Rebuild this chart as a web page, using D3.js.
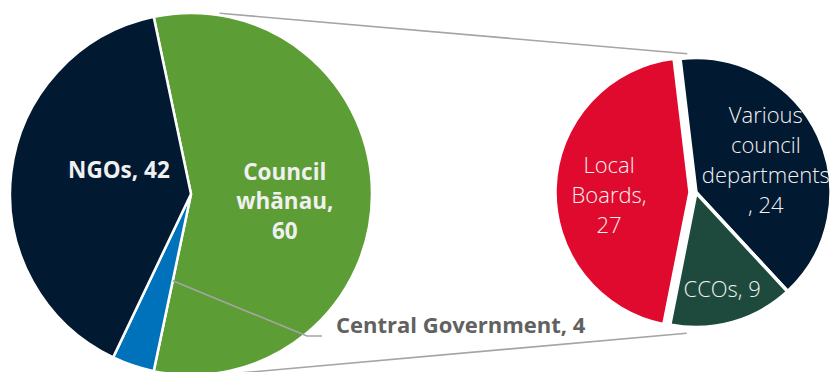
<!DOCTYPE html>
<html>
<head>
<meta charset="utf-8">
<script src="https://cdn.jsdelivr.net/npm/d3@7"></script>
<style>
  html, body { margin: 0; padding: 0; background: #ffffff; }
  svg { display: block; }
  text { font-family: "Open Sans", Roboto, "Noto Sans", sans-serif; }
</style>
</head>
<body>
<svg id="chart" width="833" height="372"></svg>
<script>
// Main pie: where the work came from
const mainCategories = ["Council whānau", "Central Government", "NGOs"];
const mainValues = [60, 4, 42];
const mainColors = ["#5c9e35", "#0072bc", "#011931"];

// Breakdown of the "Council whānau" slice
const subCategories = ["Various council departments", "CCOs", "Local Boards"];
const subValues = [24, 9, 27];
const subColors = ["#011931", "#1d4a3c", "#e00a2e"];

const W = 833, H = 372;
const svg = d3.select("#chart");
const deg = Math.PI / 180;

// geometry
const main = { cx: 191, cy: 194, r: 181, stroke: 2.5 };
const sub = { cx: 696, cy: 192.5, r: 135, stroke: 3.5 };

const polar = (c, a, rad) => [c.cx + rad * Math.sin(a), c.cy - rad * Math.cos(a)];

// main pie: the slice that is broken out faces the second pie
const mainShare = mainValues[0] / d3.sum(mainValues);
const mainPie = d3.pie().sort(null).value(d => d)
  .startAngle(Math.PI / 2 - mainShare * Math.PI)
  .endAngle(Math.PI / 2 - mainShare * Math.PI + 2 * Math.PI);
const mainArcs = mainPie(mainValues);

const subPie = d3.pie().sort(null).value(d => d)
  .startAngle(-6.8 * deg).endAngle(-6.8 * deg + 2 * Math.PI);
const subArcs = subPie(subValues);

// connector lines between the two pies
const conn = svg.append("g")
  .attr("fill", "none").attr("stroke", "#a5a5a5").attr("stroke-width", 1.6);
const topA = polar(main, 9 * deg, main.r + 2);
const botA = polar(main, 171 * deg, main.r + 2);
const topB = polar(sub, -3.6 * deg, sub.r + 4);
const botB = polar(sub, 183.8 * deg, sub.r + 6);
conn.append("line").attr("x1", topA[0]).attr("y1", topA[1]).attr("x2", topB[0]).attr("y2", topB[1]);
conn.append("line").attr("x1", botA[0]).attr("y1", botA[1]).attr("x2", botB[0]).attr("y2", botB[1]);

// main pie slices
const mainArc = d3.arc().innerRadius(0).outerRadius(main.r);
svg.append("g").attr("transform", `translate(${main.cx},${main.cy})`)
  .selectAll("path").data(mainArcs).join("path")
  .attr("d", mainArc)
  .attr("fill", (d, i) => mainColors[i])
  .attr("stroke", "#ffffff").attr("stroke-width", main.stroke)
  .attr("stroke-linejoin", "miter");

// second pie slices ("Local Boards" pulled out slightly)
const subExplode = [0, 0, 6];
const subArc = d3.arc().innerRadius(0).outerRadius(sub.r);
svg.append("g").attr("transform", `translate(${sub.cx},${sub.cy})`)
  .selectAll("path").data(subArcs).join("path")
  .attr("transform", (d, i) => {
    const m = (d.startAngle + d.endAngle) / 2;
    return `translate(${subExplode[i] * Math.sin(m)},${-subExplode[i] * Math.cos(m)})`;
  })
  .attr("d", subArc)
  .attr("fill", (d, i) => subColors[i])
  .attr("stroke", "#ffffff").attr("stroke-width", sub.stroke);

// label wrapping
function labelLines(name, value, mode) {
  const words = name.split(" ");
  if (mode === "one") return [`${name}, ${value}`];
  if (mode === "words") return words.map((w, i) => i === words.length - 1 ? w + "," : w).concat([String(value)]);
  return words.concat([`, ${value}`]);
}

function drawLabel(g, lines, x, y, size, lh, weight, fill) {
  const capH = size * 0.714;
  const first = y - (lines.length - 1) * lh / 2 + capH / 2;
  const t = g.append("text")
    .attr("text-anchor", "middle")
    .attr("font-size", size).attr("font-weight", weight).attr("fill", fill);
  lines.forEach((l, i) => t.append("tspan").attr("x", x).attr("y", first + i * lh).text(l));
}

const labels = svg.append("g");

// main pie labels inside the slices
const mainLabelMode = ["words", null, "one"];
const mainLabelAngle = [4.5, 0, 11.8];
const mainLabelRadius = [0.52, 0, 0.42];
mainArcs.forEach((d, i) => {
  if (!mainLabelMode[i]) return;
  const a = (d.startAngle + d.endAngle) / 2 + mainLabelAngle[i] * deg;
  const [x, y] = polar(main, a, mainLabelRadius[i] * main.r);
  drawLabel(labels, labelLines(mainCategories[i], mainValues[i], mainLabelMode[i]),
    x, y, 22.5, 29.5, 700, "#f0f0f0");
});

// callout for the small "Central Government" slice
{
  const d = mainArcs[1];
  const p0 = polar(main, d.startAngle, 0.49 * main.r);
  const elbow = [main.cx + 116, main.cy + 142];
  const end = [elbow[0] + 15, elbow[1]];
  svg.append("polyline")
    .attr("points", [p0, elbow, end].map(p => p.join(",")).join(" "))
    .attr("fill", "none").attr("stroke", "#a5a5a5").attr("stroke-width", 1.6);
  labels.append("text")
    .attr("x", end[0] + 14).attr("y", elbow[1] - 3)
    .attr("font-size", 22).attr("font-weight", 700).attr("fill", "#616161")
    .text(`${mainCategories[1]}, ${mainValues[1]}`);
}

// second pie labels
const subLabelMode = ["trail", "one", "words"];
const subLabelAngle = [0, 0.6, -4.5];
const subLabelRadius = [0.57, 0.74, 0.6];
subArcs.forEach((d, i) => {
  const m = (d.startAngle + d.endAngle) / 2;
  const ox = subExplode[i] * Math.sin(m), oy = -subExplode[i] * Math.cos(m);
  const [x, y] = polar(sub, m + subLabelAngle[i] * deg, subLabelRadius[i] * sub.r);
  drawLabel(labels, labelLines(subCategories[i], subValues[i], subLabelMode[i]),
    x + ox, y + oy, 22, 30, 300, "#f2f2f2");
});
</script>
</body>
</html>
